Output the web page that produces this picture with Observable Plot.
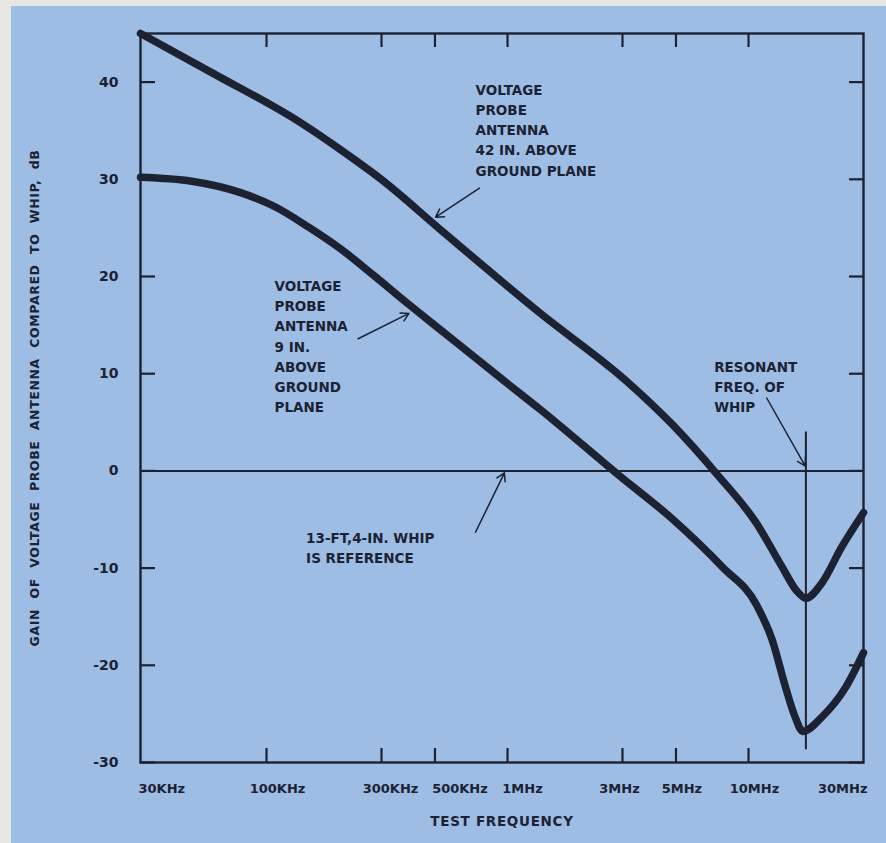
<!DOCTYPE html>
<html><head><meta charset="utf-8">
<script src="https://cdn.jsdelivr.net/npm/d3@7"></script>
<script src="https://cdn.jsdelivr.net/npm/@observablehq/plot@0.6"></script>
<style>
html,body{margin:0;padding:0;background:#e7e6e1;width:886px;height:843px;overflow:hidden}
#chart{position:absolute;left:11px;top:6px;width:875px;height:837px;background:#9ebde4}
g.ytitle text{letter-spacing:0.6px;word-spacing:5.5px}
g.xtitle text{letter-spacing:0.7px}
</style></head><body><div id="chart"></div>
<script>
// Upper curve: voltage probe antenna 42 in. above ground plane
const freq42 = [30e3, 60e3, 139e3, 204e3, 299e3, 528e3, 1.37e6, 3.13e6, 4.86e6, 7.37e6, 10.8e6, 13.8e6, 15.8e6, 17.3e6, 20.2e6, 24.4e6, 30e6];
const gain42 = [45, 40.9, 35.8, 33.0, 30.0, 24.8, 16.2, 9.2, 4.7, -0.3, -5.4, -9.9, -12.3, -13.1, -11.5, -7.8, -4.3];
// Lower curve: voltage probe antenna 9 in. above ground plane
const freq9 = [30e3, 48.9e3, 78.6e3, 108e3, 149e3, 204e3, 279e3, 386e3, 528e3, 953e3, 1.37e6, 2.85e6, 4.86e6, 7.8e6, 10.8e6, 12.5e6, 14.3e6, 15.6e6, 16.8e6, 20.2e6, 25.4e6, 30e6];
const gain9 = [30.2, 29.8, 28.6, 27.2, 25.1, 22.8, 20.1, 17.2, 14.5, 9.4, 6.3, -0.3, -5.0, -9.9, -13.8, -17.3, -22.4, -25.3, -26.8, -25.3, -22.2, -18.7];

const referenceGain = 0;           // 13-ft, 4-in. whip
const resonantFreq = 17.3e6;       // resonant frequency of whip
const resonantSpan = [4, -28.7];

const xTickValues = [30e3, 1e5, 3e5, 5e5, 1e6, 3e6, 5e6, 1e7, 3e7];
const xTickLabels = ["30KHz", "100KHz", "300KHz", "500KHz", "1MHz", "3MHz", "5MHz", "10MHz", "30MHz"];
const yTickValues = [-30, -20, -10, 0, 10, 20, 30, 40];

const labelTexts = [
  "VOLTAGE\nPROBE\nANTENNA\n42 IN. ABOVE\nGROUND PLANE",
  "VOLTAGE\nPROBE\nANTENNA\n9 IN.\nABOVE\nGROUND\nPLANE",
  "13-FT,4-IN. WHIP\nIS REFERENCE",
  "RESONANT\nFREQ. OF\nWHIP"
];
const labelFreq = [737e3, 108e3, 146e3, 7.2e6];
const labelGain = [40.2, 20.0, -5.9, 11.7];

const arrowFrom = [[765e3, 29.1], [240e3, 13.6], [737e3, -6.3], [11.9e6, 7.5]];
const arrowTo = [[503e3, 26.1], [390e3, 16.2], [971e3, -0.2], [17.2e6, 0.5]];

const xTitle = "TEST FREQUENCY";
const yTitle = "GAIN OF VOLTAGE PROBE ANTENNA COMPARED TO WHIP, dB";

const ink = "#1c2232";
const series42 = freq42.map((f, i) => ({f, g: gain42[i]}));
const series9 = freq9.map((f, i) => ({f, g: gain9[i]}));
const labels = labelTexts.map((t, i) => ({t, f: labelFreq[i], g: labelGain[i]}));
const arrows = arrowFrom.map((a, i) => ({x1: a[0], y1: a[1], x2: arrowTo[i][0], y2: arrowTo[i][1]}));
const xt = xTickValues.map((v, i) => ({v, s: xTickLabels[i]}));

const font = "'DejaVu Sans', sans-serif";
// per-label horizontal nudges of the hand-lettered tick labels (style only)
const xLabelStyle = [
  {anchor: "start", dx: -2}, {anchor: "middle", dx: 11}, {anchor: "middle", dx: 9},
  {anchor: "middle", dx: 25}, {anchor: "middle", dx: 15}, {anchor: "middle", dx: -3},
  {anchor: "middle", dx: 6}, {anchor: "middle", dx: 6}, {anchor: "end", dx: 4}
];
const xLabelMarks = xt.map((d, i) => Plot.text([d], {
  x: "v", text: "s", frameAnchor: "bottom", dy: 30,
  textAnchor: xLabelStyle[i].anchor, dx: xLabelStyle[i].dx,
  fontSize: 13, fontWeight: "bold", fill: ink
}));

const chart = Plot.plot({
  width: 875, height: 837,
  marginLeft: 129, marginRight: 23, marginTop: 27, marginBottom: 81,
  style: {background: "transparent", fontFamily: font, color: ink},
  x: {type: "log", domain: [30e3, 30e6]},
  y: {domain: [-30, 45]},
  marks: [
    Plot.axisY({ticks: yTickValues, anchor: "left", tickSize: -15, text: null, label: null, strokeWidth: 2.2, stroke: ink}),
    Plot.axisY({ticks: yTickValues, anchor: "right", tickSize: -15, text: null, label: null, strokeWidth: 2.2, stroke: ink}),
    Plot.axisX({ticks: xTickValues.slice(1, -1), anchor: "bottom", tickSize: -14, text: null, label: null, strokeWidth: 2.2, stroke: ink}),
    Plot.axisX({ticks: xTickValues.slice(1, -1), anchor: "top", tickSize: -13, text: null, label: null, strokeWidth: 2.2, stroke: ink}),
    Plot.axisY({ticks: yTickValues, anchor: "left", tickSize: 0, tickPadding: 22, label: null, tickFormat: d => String(d), fontSize: 14, fontWeight: "bold", fill: ink}),
    ...xLabelMarks,
    Plot.text([xTitle], {frameAnchor: "bottom", dy: 63, fontSize: 13.5, fontWeight: "bold", fill: ink, className: "xtitle"}),
    Plot.text([yTitle], {frameAnchor: "left", textAnchor: "middle", rotate: -90, dx: -106, fontSize: 12.5, fontWeight: "bold", fill: ink, className: "ytitle"}),
    Plot.ruleY([referenceGain], {stroke: ink, strokeWidth: 2}),
    Plot.ruleX([resonantFreq], {y1: resonantSpan[0], y2: resonantSpan[1], stroke: ink, strokeWidth: 2}),
    Plot.line(series42, {x: "f", y: "g", curve: "monotone-x", stroke: ink, strokeWidth: 7.5}),
    Plot.line(series9, {x: "f", y: "g", curve: "monotone-x", stroke: ink, strokeWidth: 7.5}),
    Plot.arrow(arrows, {x1: "x1", y1: "y1", x2: "x2", y2: "y2", stroke: ink, strokeWidth: 1.5, headLength: 9}),
    Plot.text(labels, {x: "f", y: "g", text: "t", textAnchor: "start", lineAnchor: "top", lineHeight: 1.5, fontSize: 13.5, fontWeight: "bold", fill: ink}),
    Plot.frame({stroke: ink, strokeWidth: 2.4})
  ]
});
document.getElementById("chart").appendChild(chart);
</script></body></html>
